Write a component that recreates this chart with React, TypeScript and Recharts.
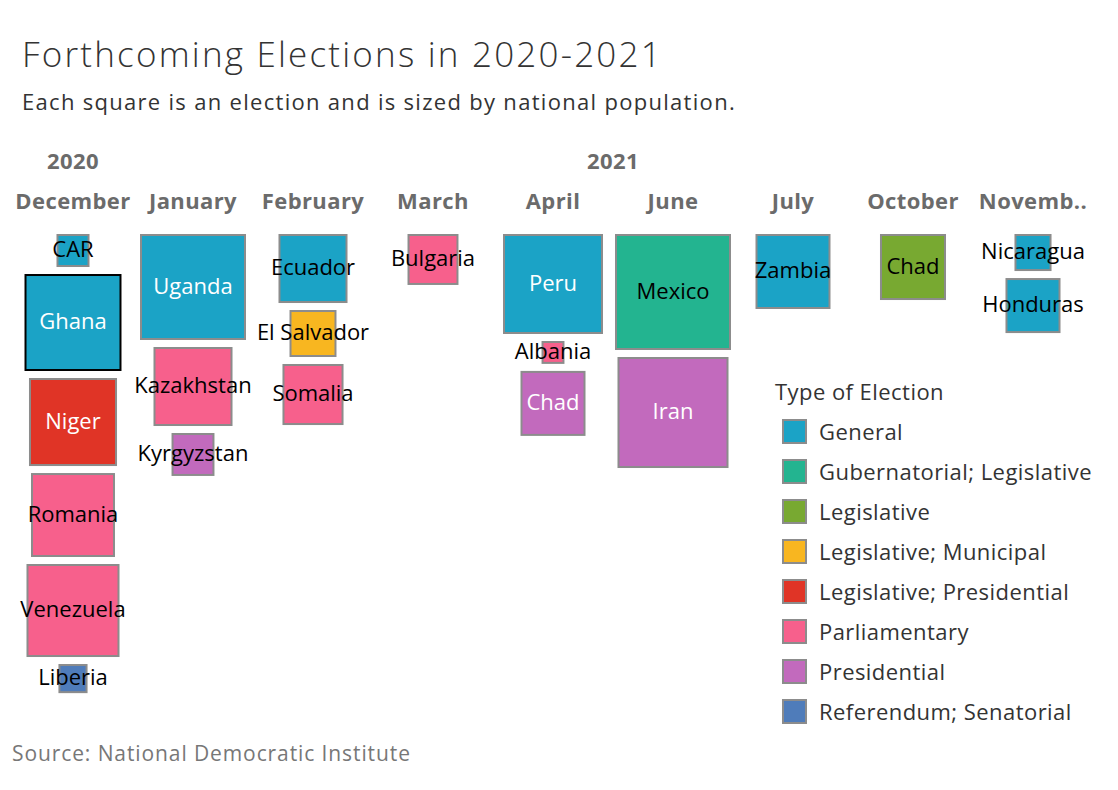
import { ScatterChart, Scatter, XAxis, YAxis } from "recharts";

document.body.style.margin = "0";

const FONT = "'Open Sans', 'Noto Sans', sans-serif";

const months = ["December", "January", "February", "March", "April", "June", "July", "October", "Novemb.."];
const years = ["2020", "2021"];
const yearTicks = [0, 4.5]; // 2020 = Dec only, 2021 = centre of Jan..Nov

const types = [
  "General",
  "Gubernatorial; Legislative",
  "Legislative",
  "Legislative; Municipal",
  "Legislative; Presidential",
  "Parliamentary",
  "Presidential",
  "Referendum; Senatorial",
];
const typeColors = ["#1ba3c6", "#23b490", "#78a931", "#f8b620", "#e03426", "#f7608c", "#c26abd", "#4f7cba"];

// one election per entry, top to bottom inside each month
const countries = [
  "CAR", "Ghana", "Niger", "Romania", "Venezuela", "Liberia",
  "Uganda", "Kazakhstan", "Kyrgyzstan",
  "Ecuador", "El Salvador", "Somalia",
  "Bulgaria",
  "Peru", "Albania", "Chad",
  "Mexico", "Iran",
  "Zambia",
  "Chad",
  "Nicaragua", "Honduras",
];
const monthIndex = [0, 0, 0, 0, 0, 0, 1, 1, 1, 2, 2, 2, 3, 4, 4, 4, 5, 5, 6, 7, 8, 8];
const electionType = [0, 0, 4, 5, 5, 7, 0, 5, 6, 0, 3, 5, 5, 0, 5, 6, 1, 6, 0, 2, 0, 0];
// relative population size (Mexico = 100)
const sizeIndex = [
  8.1, 69.9, 57.6, 52.4, 64.3, 6.3,
  83.5, 46.4, 13.7,
  35.4, 16.4, 27.7,
  19.3,
  74.3, 3.9, 31.4,
  100, 91.6,
  41.8,
  32.4,
  10.2, 22.5,
];

// styling
const highlighted = new Set([1]); // Ghana
const lightLabel = new Set([1, 2, 6, 13, 15, 17]);

const W = 1118;
const H = 790;
const TOP = 220; // plot area starts under the header axis
const PLOT_H = H - TOP;
const MAX_SIDE = 116;
const GAP = 7;
const START = 14;

const sideOf = (v: number) => MAX_SIDE * Math.sqrt(v / 100);

// stack squares inside each month column
const colOffset: number[] = months.map(() => START);
const rows = countries.map((name, i) => {
  const m = monthIndex[i];
  const s = sideOf(sizeIndex[i]);
  const y = colOffset[m] + s / 2;
  colOffset[m] += s + GAP;
  return {
    name,
    month: m,
    y,
    side: s,
    type: electionType[i],
    color: typeColors[electionType[i]],
    highlight: highlighted.has(i),
    light: lightLabel.has(i),
  };
});

const xDomain = [-73 / 120, (W - 73) / 120];
const pitch = W / (xDomain[1] - xDomain[0]); // px per month column

const Square = (props: any) => {
  const { cx, cy, payload } = props;
  const s = payload.side;
  return (
    <g>
      <rect
        x={cx - s / 2 + 1}
        y={cy - s / 2 + 1}
        width={s - 2}
        height={s - 2}
        fill={payload.color}
        stroke={payload.highlight ? "#000" : "#8c8c8c"}
        strokeWidth={2}
      />
      <text
        x={cx}
        y={cy}
        dy="0.3em"
        textAnchor="middle"
        fontSize={22}
        fontFamily={FONT}
        fill={payload.light ? "#fff" : "#000"}
      >
        {payload.name}
      </text>
    </g>
  );
};

const headStyle = { fontSize: 22, fontWeight: 700, fontFamily: FONT, fill: "#6b6b6b", letterSpacing: 0.4 };

const MonthTick = (props: any) => {
  const { x, payload } = props;
  const v = payload.value;
  const yi = yearTicks.findIndex((p) => Math.floor(p) === v);
  return (
    <g>
      <text x={x} y={209} textAnchor="middle" {...headStyle}>
        {months[v]}
      </text>
      {yi >= 0 && (
        <text x={x + (yearTicks[yi] - v) * pitch} y={169} textAnchor="middle" {...headStyle}>
          {years[yi]}
        </text>
      )}
    </g>
  );
};

export default function App() {
  return (
    <div style={{ position: "relative", width: W, height: H, background: "#fff", fontFamily: FONT }}>
      <ScatterChart width={W} height={H} margin={{ top: 120, right: 0, bottom: 0, left: 0 }}>
        <XAxis
          orientation="top"
          type="number"
          dataKey="month"
          domain={xDomain}
          ticks={months.map((_, i) => i)}
          interval={0}
          height={100}
          axisLine={false}
          tickLine={false}
          tick={<MonthTick />}
        />
        <YAxis type="number" dataKey="y" domain={[0, PLOT_H]} reversed hide />
        {types.map((t, ti) => (
          <Scatter
            key={t}
            name={t}
            data={rows.filter((r) => r.type === ti)}
            fill={typeColors[ti]}
            shape={<Square />}
            isAnimationActive={false}
          />
        ))}
      </ScatterChart>

      <div
        style={{
          position: "absolute",
          left: 22,
          top: 30,
          fontSize: 35,
          fontWeight: 300,
          letterSpacing: 2.2,
          color: "#333",
          whiteSpace: "nowrap",
        }}
      >
        Forthcoming Elections in 2020-2021
      </div>
      <div
        style={{
          position: "absolute",
          left: 22,
          top: 86,
          fontSize: 22,
          letterSpacing: 1.3,
          color: "#333",
          whiteSpace: "nowrap",
        }}
      >
        Each square is an election and is sized by national population.
      </div>
      <div
        style={{
          position: "absolute",
          left: 12,
          top: 739,
          fontSize: 21,
          letterSpacing: 0.9,
          color: "#777",
          whiteSpace: "nowrap",
        }}
      >
        Source: National Democratic Institute
      </div>

      <div style={{ position: "absolute", left: 775, top: 371, color: "#333", fontSize: 22, letterSpacing: 0.45 }}>
        <div style={{ height: 40, lineHeight: "40px", whiteSpace: "nowrap" }}>Type of Election</div>
        {types.map((t, i) => (
          <div key={t} style={{ height: 40, display: "flex", alignItems: "center", whiteSpace: "nowrap" }}>
            <span
              style={{
                display: "inline-block",
                width: 25,
                height: 25,
                boxSizing: "border-box",
                border: "2px solid #8c8c8c",
                background: typeColors[i],
                marginLeft: 7,
                marginRight: 12,
              }}
            />
            {t}
          </div>
        ))}
      </div>
    </div>
  );
}
